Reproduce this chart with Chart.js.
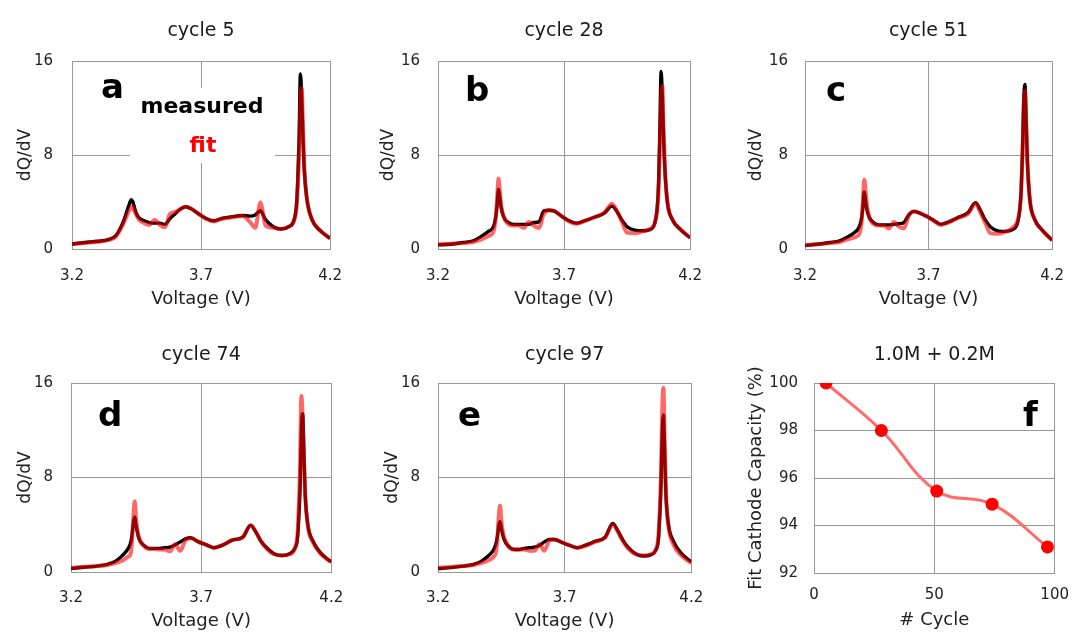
<!DOCTYPE html>
<html>
<head>
<meta charset="utf-8">
<script src="https://cdn.jsdelivr.net/npm/chart.js@4.4.1/dist/chart.umd.min.js"></script>
<style>
  html, body { margin: 0; padding: 0; background: #fff; }
  #wrap { position: relative; width: 1082px; height: 632px; overflow: hidden; }
  canvas { position: absolute; }
</style>
</head>
<body>
<div id="wrap">
  <canvas id="pa" width="360" height="316" style="left:0;top:0"></canvas>
  <canvas id="pb" width="360" height="316" style="left:360px;top:0"></canvas>
  <canvas id="pc" width="362" height="316" style="left:720px;top:0"></canvas>
  <canvas id="pd" width="360" height="316" style="left:0;top:316px"></canvas>
  <canvas id="pe" width="360" height="316" style="left:360px;top:316px"></canvas>
  <canvas id="pf" width="362" height="316" style="left:720px;top:316px"></canvas>
</div>
<script>
// ─── Data ──────────────────────────────────────

const voltage = [3.20, 3.25, 3.30, 3.34, 3.37, 3.40, 3.42, 3.43, 3.435, 3.44, 3.445, 3.45, 3.46, 3.48, 3.50, 3.52,
  3.54, 3.56, 3.58, 3.60, 3.62, 3.64, 3.66, 3.69, 3.72, 3.75, 3.78, 3.82, 3.86, 3.89, 3.91, 3.93,
  3.95, 3.98, 4.01, 4.04, 4.06, 4.07, 4.075, 4.08, 4.085, 4.09, 4.095, 4.10, 4.11, 4.13, 4.16, 4.20];

const measured5 = [0.42, 0.55, 0.66, 0.8, 1.15, 2.4, 3.7, 4.2, 4.05, 3.7, 3.3, 3.0, 2.65, 2.4, 2.25, 2.2,
  2.2, 2.1, 2.6, 3.0, 3.4, 3.6, 3.45, 3.0, 2.6, 2.4, 2.6, 2.75, 2.85, 2.8, 2.9, 3.25,
  2.5, 1.9, 1.7, 1.9, 2.45, 3.8, 6.0, 9.5, 14.9, 13.0, 9.5, 6.8, 4.3, 2.5, 1.6, 0.9];
const fit5 = [0.42, 0.52, 0.62, 0.75, 1.05, 2.2, 3.2, 3.55, 3.6, 3.35, 3.1, 2.85, 2.5, 2.2, 2.05, 2.5,
  2.05, 1.85, 3.0, 3.15, 3.4, 3.6, 3.45, 3.0, 2.55, 2.35, 2.55, 2.7, 2.8, 2.3, 1.8, 3.95,
  2.0, 1.8, 1.7, 1.9, 2.4, 3.5, 5.5, 8.0, 12.5, 13.7, 10.5, 7.0, 4.3, 2.5, 1.6, 0.9];

const measured28 = [0.35, 0.4, 0.55, 0.7, 1.05, 1.5, 1.9, 2.9, 3.9, 5.1, 4.45, 3.6, 2.75, 2.25, 2.1, 2.1,
  2.1, 2.1, 2.25, 2.3, 3.25, 3.3, 3.25, 2.8, 2.4, 2.2, 2.4, 2.7, 3.05, 3.65, 3.2, 2.45,
  1.9, 1.6, 1.55, 1.65, 2.2, 3.6, 5.6, 10.0, 15.1, 13.0, 9.5, 6.8, 4.0, 2.5, 1.7, 0.95];
const fit28 = [0.4, 0.45, 0.5, 0.6, 0.8, 1.1, 1.5, 2.8, 4.5, 6.0, 5.0, 3.8, 2.8, 2.1, 2.0, 2.0,
  1.8, 2.3, 2.0, 1.8, 3.0, 3.3, 3.25, 2.8, 2.35, 2.15, 2.35, 2.7, 3.1, 3.85, 3.2, 2.3,
  1.4, 1.35, 1.5, 1.7, 2.2, 3.4, 5.0, 8.5, 12.5, 13.9, 10.0, 7.0, 4.0, 2.5, 1.7, 0.95];

const measured51 = [0.3, 0.4, 0.55, 0.7, 1.0, 1.4, 1.9, 2.75, 3.75, 4.85, 4.2, 3.4, 2.7, 2.2, 2.05, 2.05,
  2.05, 2.1, 2.15, 2.25, 2.9, 3.2, 3.1, 2.8, 2.45, 2.1, 2.3, 2.7, 3.1, 3.95, 3.3, 2.45,
  1.9, 1.55, 1.5, 1.65, 2.2, 3.5, 5.0, 8.0, 12.5, 14.0, 11.0, 7.5, 4.2, 2.5, 1.6, 0.75];
const fit51 = [0.35, 0.4, 0.5, 0.6, 0.8, 1.0, 1.3, 2.5, 4.5, 5.9, 5.0, 3.8, 2.7, 2.1, 2.0, 2.0,
  1.75, 2.3, 1.9, 1.75, 2.85, 3.2, 3.1, 2.8, 2.4, 2.05, 2.25, 2.65, 3.0, 3.85, 3.1, 2.2,
  1.35, 1.3, 1.45, 1.8, 2.4, 3.5, 5.0, 8.0, 12.0, 13.5, 11.0, 7.5, 4.2, 2.5, 1.6, 0.75];

const measured74 = [0.3, 0.4, 0.5, 0.65, 0.9, 1.45, 2.0, 2.55, 3.25, 4.2, 4.65, 3.95, 2.9, 2.25, 2.0, 2.0,
  2.0, 2.05, 2.1, 2.3, 2.55, 2.8, 2.9, 2.55, 2.3, 2.05, 2.25, 2.7, 2.95, 3.95, 3.4, 2.6,
  2.1, 1.55, 1.4, 1.55, 2.0, 2.8, 4.5, 7.0, 12.0, 13.4, 10.0, 6.5, 4.0, 2.6, 1.6, 0.85];
const fit74 = [0.35, 0.45, 0.5, 0.6, 0.75, 1.0, 1.3, 1.6, 2.8, 4.8, 6.0, 4.5, 3.0, 2.2, 1.95, 1.95,
  1.9, 1.9, 1.75, 2.35, 1.8, 2.7, 2.85, 2.55, 2.3, 2.05, 2.25, 2.7, 2.95, 3.95, 3.4, 2.6,
  2.0, 1.5, 1.4, 1.5, 2.0, 3.2, 5.5, 9.0, 14.9, 13.0, 9.5, 6.5, 3.9, 2.5, 1.5, 0.85];

const measured97 = [0.3, 0.37, 0.5, 0.65, 0.9, 1.4, 1.9, 2.5, 3.1, 3.95, 4.25, 3.7, 2.8, 2.15, 1.9, 1.9,
  2.0, 2.05, 2.1, 2.25, 2.55, 2.75, 2.75, 2.5, 2.25, 2.05, 2.25, 2.6, 2.95, 4.1, 3.5, 2.7,
  2.1, 1.55, 1.35, 1.45, 1.85, 2.7, 4.5, 7.0, 11.5, 13.3, 10.0, 6.5, 4.0, 2.6, 1.6, 0.85];
const fit97 = [0.35, 0.42, 0.5, 0.6, 0.75, 1.0, 1.3, 1.8, 3.0, 4.8, 5.6, 4.3, 3.0, 2.1, 1.9, 1.9,
  1.9, 1.8, 1.8, 2.35, 1.8, 2.7, 2.75, 2.5, 2.25, 2.05, 2.2, 2.55, 2.9, 4.0, 3.4, 2.6,
  2.0, 1.5, 1.4, 1.5, 1.9, 3.0, 5.0, 8.0, 13.5, 15.6, 11.0, 6.8, 3.9, 2.3, 1.4, 0.75];

const cycleNumbers    = [5, 28, 51, 74, 97];
const cathodeCapacity = [100, 98.0, 95.45, 94.9, 93.1];

const voltageTicks  = [3.2, 3.7, 4.2];
const dqdvTicks     = [0, 8, 16];
const cycleTicks    = [0, 50, 100];
const capacityTicks = [92, 94, 96, 98, 100];

// ─── Estilo ──────────────────────────────────────

const GRID = '#999999';
const TEXT = '#222222';
const FONT = "'DejaVu Sans', sans-serif";

Chart.defaults.font.family = FONT;
Chart.defaults.color = TEXT;

// titles, panel letters and the measured/fit box
const panelDecor = {
  id: 'panelDecor',
  beforeDatasetsDraw(chart, args, opts) {
    if (!opts.box) return;
    const { ctx, chartArea: ca } = chart;
    ctx.save();
    ctx.fillStyle = '#fff';
    ctx.fillRect(ca.left + 58, ca.top + 27, 145, 75);
    ctx.restore();
  },
  afterDraw(chart, args, opts) {
    const { ctx, chartArea: ca } = chart;
    ctx.save();
    ctx.fillStyle = '#1a1a1a';
    ctx.textAlign = 'center';
    ctx.textBaseline = 'alphabetic';
    ctx.font = `19px ${FONT}`;
    ctx.fillText(opts.title, (ca.left + ca.right) / 2, opts.titleY);

    ctx.textAlign = 'left';
    ctx.fillStyle = '#000';
    ctx.font = `bold 34px ${FONT}`;
    ctx.fillText(opts.letter, ca.left + opts.letterDx, ca.top + opts.letterDy);

    if (opts.box) {
      ctx.textAlign = 'center';
      ctx.font = `bold 22px ${FONT}`;
      ctx.fillStyle = '#000';
      ctx.fillText('measured', ca.left + 130, ca.top + 52);
      ctx.fillStyle = '#ff0000';
      ctx.fillText('fit', ca.left + 131, ca.top + 91);
    }
    ctx.restore();
  }
};

function toPoints(xs, ys) {
  return xs.map((x, i) => ({ x, y: ys[i] }));
}

function axis(g, o) {
  return {
    type: 'linear',
    min: o.min, max: o.max,
    afterBuildTicks: s => { s.ticks = o.ticks.map(v => ({ value: v })); },
    afterFit: s => { if (o.horizontal) s.height = g.xh; else s.width = g.yw; },
    ticks: {
      padding: o.tickPad,
      autoSkip: false, maxRotation: 0,
      color: TEXT,
      font: { size: 15 },
      callback: o.fmt,
    },
    grid: { color: GRID, lineWidth: 1, drawTicks: false },
    border: { color: GRID, width: 1 },
    title: {
      display: true, text: o.title, color: TEXT,
      font: { size: o.titleSize },
      padding: o.titlePad,
    },
  };
}

function baseOptions(g, decor, xAxis, yAxis) {
  return {
    responsive: false,
    animation: false,
    devicePixelRatio: 1,
    layout: { padding: { left: 0, top: g.top, right: g.right, bottom: 0 } },
    plugins: {
      legend: { display: false },
      tooltip: { enabled: false },
      panelDecor: decor,
    },
    scales: { x: xAxis, y: yAxis },
  };
}

// ─── Painéis dQ/dV ──────────────────────────────────────

const dqdvPanels = [
  { id: 'pa', title: 'cycle 5',  letter: 'a', measured: measured5,  fit: fit5,  box: true,
    yw: 72, top: 61, right: 26, xh: 67, yTitlePad: 15, xTitlePad: 6, yTickPad: 19, xTickPad: 18, titleY: 35.5, letterDx: 29, letterDy: 37 },
  { id: 'pb', title: 'cycle 28', letter: 'b', measured: measured28, fit: fit28,
    yw: 78, top: 61, right: 20, xh: 67, yTitlePad: 18, xTitlePad: 6, yTickPad: 18, xTickPad: 18, titleY: 35.5, letterDx: 27, letterDy: 40 },
  { id: 'pc', title: 'cycle 51', letter: 'c', measured: measured51, fit: fit51,
    yw: 85, top: 61, right: 15, xh: 67, yTitlePad: 26, xTitlePad: 6, yTickPad: 17, xTickPad: 18, titleY: 35.5, letterDx: 21, letterDy: 40 },
  { id: 'pd', title: 'cycle 74', letter: 'd', measured: measured74, fit: fit74,
    yw: 71, top: 67, right: 27, xh: 60, yTitlePad: 15, xTitlePad: 0, yTickPad: 18, xTickPad: 16.8, titleY: 44, letterDx: 27, letterDy: 43 },
  { id: 'pe', title: 'cycle 97', letter: 'e', measured: measured97, fit: fit97,
    yw: 78, top: 67, right: 20, xh: 60, yTitlePad: 22, xTitlePad: 0, yTickPad: 18, xTickPad: 16.8, titleY: 44, letterDx: 20, letterDy: 43 },
];

dqdvPanels.forEach(p => {
  const xAxis = axis(p, {
    horizontal: true, min: 3.2, max: 4.2, ticks: voltageTicks, tickPad: p.xTickPad,
    fmt: v => Number(v).toFixed(1), title: 'Voltage (V)', titleSize: 18,
    titlePad: { top: 0, bottom: p.xTitlePad },
  });
  const yAxis = axis(p, {
    min: 0, max: 16, ticks: dqdvTicks, tickPad: p.yTickPad,
    fmt: v => String(v), title: 'dQ/dV', titleSize: 17,
    titlePad: { top: p.yTitlePad, bottom: 0 },
  });

  new Chart(document.getElementById(p.id), {
    type: 'line',
    data: {
      datasets: [
        {
          label: 'fit',
          data: toPoints(voltage, p.fit),
          borderColor: 'rgba(255,0,0,0.6)',
          borderWidth: 4,
          pointRadius: 0,
          cubicInterpolationMode: 'monotone',
          order: 0,
        },
        {
          label: 'measured',
          data: toPoints(voltage, p.measured),
          borderColor: '#000',
          borderWidth: 3.4,
          pointRadius: 0,
          cubicInterpolationMode: 'monotone',
          order: 1,
        },
      ],
    },
    options: baseOptions(p, {
      title: p.title, titleY: p.titleY, letter: p.letter,
      letterDx: p.letterDx, letterDy: p.letterDy, box: !!p.box,
    }, xAxis, yAxis),
    plugins: [panelDecor],
  });
});

// ─── Painel f: capacidade ──────────────────────────────────────

const fGeom = { yw: 94, top: 67, right: 19, xh: 59 };

new Chart(document.getElementById('pf'), {
  type: 'line',
  data: {
    datasets: [{
      label: 'Fit Cathode Capacity',
      data: toPoints(cycleNumbers, cathodeCapacity),
      borderColor: '#ff6b6b',
      borderWidth: 3,
      tension: 0.4,
      pointRadius: 6.5,
      pointBackgroundColor: '#ff0000',
      pointBorderWidth: 0,
    }],
  },
  options: baseOptions(fGeom, {
    title: '1.0M + 0.2M', titleY: 44, letter: 'f', letterDx: 209, letterDy: 43,
  },
  axis(fGeom, {
    horizontal: true, min: 0, max: 100, ticks: cycleTicks, tickPad: 13,
    fmt: v => String(v), title: '# Cycle', titleSize: 18,
    titlePad: { top: 0, bottom: 1 },
  }),
  axis(fGeom, {
    min: 92, max: 100, ticks: capacityTicks, tickPad: 16,
    fmt: v => String(v), title: 'Fit Cathode Capacity (%)', titleSize: 18,
    titlePad: { top: 26, bottom: 0 },
  })),
  plugins: [panelDecor],
});
</script>
</body>
</html>
